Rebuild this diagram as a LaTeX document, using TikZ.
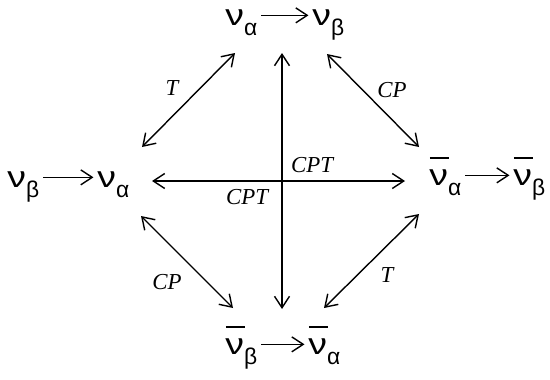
\documentclass[tikz,border=0pt]{standalone}
\usepackage{fontspec}
\setmainfont{Liberation Sans}
\newfontfamily\labfont{Liberation Serif}
\usetikzlibrary{arrows.meta}
\newcommand{\nusym}[1]{\scalebox{1.25}[1]{ν}\raisebox{-6pt}{\fontsize{13}{15}\selectfont #1}}
\newcommand{\nubarsym}[1]{\makebox[0pt][l]{\hspace{0.3pt}\rule[15pt]{10.8pt}{0.8pt}}\nusym{#1}}

\begin{document}
\begin{tikzpicture}[
  x=0.02cm, y=-0.02cm,
  every node/.style={inner sep=0pt},
  nu/.style={anchor=base west, font=\fontsize{17}{20}\selectfont},
  sym/.style={font=\labfont\itshape\fontsize{13}{15}\selectfont},
  rel/.style={{Straight Barb[length=6.5pt,width=8.5pt]}-{Straight Barb[length=6.5pt,width=8.5pt]}, line width=0.8pt},
  proc/.style={-{Straight Barb[length=6.5pt,width=8.5pt]}, line width=0.8pt},
]
\useasboundingbox (0,0) rectangle (550,379);

% the four processes
\node[nu] (tnua) at (225,25) {\nusym{α}};
\node[nu] (tnub) at (312,25) {\nusym{β}};
\node[nu] (lnub) at (7,187) {\nusym{β}};
\node[nu] (lnua) at (97,187) {\nusym{α}};
\node[nu] (rnua) at (429,185) {\nubarsym{α}};
\node[nu] (rnub) at (513,185) {\nubarsym{β}};
\node[nu] (bnub) at (225,354) {\nubarsym{β}};
\node[nu] (bnua) at (308,354) {\nubarsym{α}};

\draw[proc] ([xshift=2pt,yshift=5.5pt]tnua.base east) -- ([xshift=-2pt,yshift=5.5pt]tnub.base west);
\draw[proc] ([xshift=2pt,yshift=5.5pt]lnub.base east) -- ([xshift=-2pt,yshift=5.5pt]lnua.base west);
\draw[proc] ([xshift=2pt,yshift=5.5pt]rnua.base east) -- ([xshift=-2pt,yshift=5.5pt]rnub.base west);
\draw[proc] ([xshift=2pt,yshift=5.5pt]bnub.base east) -- ([xshift=-2pt,yshift=5.5pt]bnua.base west);

% ends of the symmetry arrows
\coordinate (tl1) at (142,147);
\coordinate (tl2) at (235,53);
\coordinate (tr1) at (327,54);
\coordinate (tr2) at (419,147);
\coordinate (bl1) at (141,216);
\coordinate (bl2) at (233,308);
\coordinate (br1) at (324,308);
\coordinate (br2) at (419,214);
\coordinate (vt) at (282,53);
\coordinate (vb) at (282,309);
\coordinate (hl) at (152,181);
\coordinate (hr) at (405,181);

\draw[rel] (tl1) -- (tl2);
\draw[rel] (tr1) -- (tr2);
\draw[rel] (bl1) -- (bl2);
\draw[rel] (br1) -- (br2);
\draw[rel] (vt) -- (vb);
\draw[rel] (hl) -- (hr);

\node[sym] (tlab1) at (172,88) {T};
\node[sym] (cplab1) at (392,90) {CP};
\node[sym] (cplab2) at (167,282) {CP};
\node[sym] (tlab2) at (387,275) {T};
\node[sym] (cptlab1) at (312,165) {CPT};
\node[sym] (cptlab2) at (247,197) {CPT};
\end{tikzpicture}
\end{document}
